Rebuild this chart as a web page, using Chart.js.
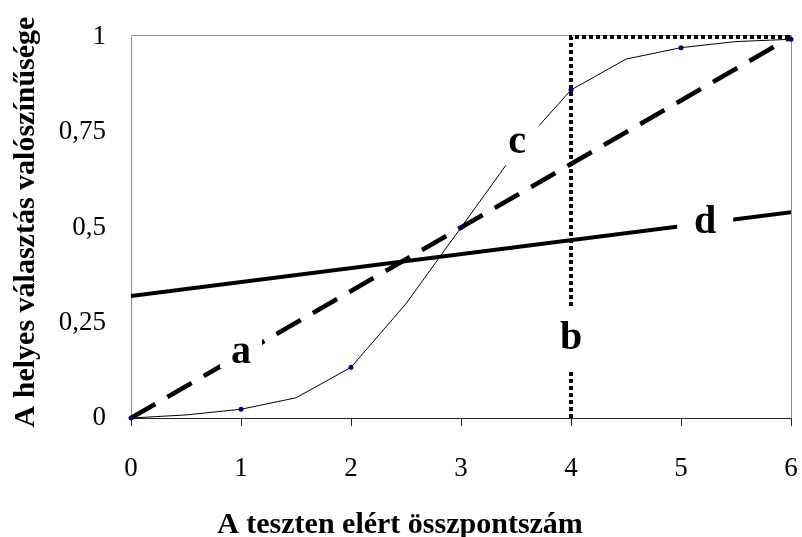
<!DOCTYPE html>
<html>
<head>
<meta charset="utf-8">
<script src="https://cdn.jsdelivr.net/npm/chart.js@4"></script>
<style>
  body { margin: 0; background: #fff; }
</style>
</head>
<body>
<canvas id="chart" width="802" height="537"></canvas>
<script>
// x ticks and y ticks
const xTicks = [0, 1, 2, 3, 4, 5, 6];
const yTicks = ['0', '0,25', '0,5', '0,75', '1'];

// curve c (markers only on whole scores)
const cX = [0, 0.5, 1, 1.5, 2, 2.5, 3, 3.5, 4, 4.5, 5, 5.5, 6];
const cY = [0, 0.008, 0.023, 0.053, 0.133, 0.30, 0.50, 0.70, 0.861, 0.942, 0.972, 0.988, 0.994];

// straight lines a, b, d
const aX = [0, 6];
const aY = [0, 1];
const bX = [4, 4, 6];
const bY = [0, 1, 1];
const dX = [0, 6];
const dY = [0.32, 0.54];

// letters on the lines
const letters = ['a', 'b', 'c', 'd'];
const letterX = [1.0, 4.0, 3.51, 5.22];
const letterY = [0.173, 0.21, 0.724, 0.514];
const gapW = [42, 30, 44, 56];
const gapH = [32, 64, 46, 30];

const xTitle = 'A teszten elért összpontszám';
const yTitle = 'A helyes választás valószínűsége';

const pts = (xs, ys) => xs.map((x, i) => ({ x: x, y: ys[i] }));
const serif = '"Liberation Serif", "Times New Roman", serif';

// grey frame on top and right, axis titles
const framePlugin = {
  id: 'frame',
  beforeDatasetsDraw(chart) {
    const { ctx, chartArea: a } = chart;
    ctx.save();
    ctx.strokeStyle = '#8c8c8c';
    ctx.lineWidth = 1;
    ctx.beginPath();
    ctx.moveTo(a.left, a.top - 1.5);
    ctx.lineTo(a.right + 0.5, a.top - 1.5);
    ctx.lineTo(a.right + 0.5, a.bottom);
    ctx.stroke();
    ctx.restore();
  },
  afterDraw(chart) {
    const ctx = chart.ctx;
    ctx.save();
    ctx.fillStyle = '#000';
    ctx.font = 'bold 30px ' + serif;
    ctx.textAlign = 'center';
    ctx.textBaseline = 'alphabetic';
    ctx.fillText(xTitle, 400, 533);
    ctx.translate(34, 222);
    ctx.rotate(-Math.PI / 2);
    ctx.fillText(yTitle, 0, 0);
    ctx.restore();
  }
};

// letters with a white patch that breaks the line under them
const letterPlugin = {
  id: 'letters',
  afterDatasetsDraw(chart) {
    const { ctx, scales } = chart;
    ctx.save();
    letters.forEach(function (t, i) {
      const px = scales.x.getPixelForValue(letterX[i]);
      const py = scales.y.getPixelForValue(letterY[i]);
      ctx.fillStyle = '#fff';
      ctx.fillRect(px - gapW[i] / 2, py - gapH[i] / 2, gapW[i], gapH[i]);
      ctx.fillStyle = '#000';
      ctx.font = 'bold 40px ' + serif;
      ctx.textAlign = 'center';
      ctx.textBaseline = 'middle';
      ctx.fillText(t, px, py + 1);
    });
    ctx.restore();
  }
};

new Chart(document.getElementById('chart'), {
  type: 'line',
  data: {
    datasets: [
      {
        label: 'c',
        data: pts(cX, cY),
        borderColor: '#000',
        borderWidth: 1,
        tension: 0,
        pointRadius: ctx => (Number.isInteger(cX[ctx.dataIndex]) ? 2.5 : 0),
        pointBackgroundColor: '#000080',
        pointBorderWidth: 0,
        clip: false
      },
      {
        label: 'a',
        data: pts(aX, aY),
        borderColor: '#000',
        borderWidth: 4.5,
        borderDash: [28, 14],
        pointRadius: 0,
        clip: false
      },
      {
        label: 'b',
        data: pts(bX, bY),
        borderColor: '#000',
        borderWidth: 4,
        borderDash: [4, 3],
        borderCapStyle: 'butt',
        borderJoinStyle: 'miter',
        pointRadius: 0,
        clip: false
      },
      {
        label: 'd',
        data: pts(dX, dY),
        borderColor: '#000',
        borderWidth: 4,
        pointRadius: 0
      }
    ]
  },
  options: {
    responsive: false,
    animation: false,
    devicePixelRatio: 1,
    layout: { autoPadding: false, padding: { left: 0, top: 37, right: 11, bottom: 0 } },
    plugins: { legend: { display: false }, tooltip: { enabled: false } },
    scales: {
      x: {
        type: 'linear',
        min: 0,
        max: 6,
        afterFit: s => { s.height = 119; s.paddingLeft = 0; s.paddingRight = 0; },
        afterBuildTicks: s => { s.ticks = xTicks.map(v => ({ value: v })); },
        grid: { drawOnChartArea: false, drawTicks: true, tickLength: 8, color: '#222' },
        border: { color: '#222', width: 1 },
        ticks: { color: '#000', padding: 27, font: { family: serif, size: 27 } }
      },
      y: {
        type: 'linear',
        min: 0,
        max: 1,
        afterFit: s => { s.width = 131; s.paddingTop = 0; s.paddingBottom = 0; },
        afterBuildTicks: s => { s.ticks = yTicks.map((t, i) => ({ value: i * 0.25 })); },
        grid: { display: false, drawTicks: false },
        border: { color: '#8c8c8c', width: 1 },
        ticks: {
          color: '#000',
          padding: 25,
          font: { family: serif, size: 27 },
          callback: (v, i) => yTicks[i]
        }
      }
    }
  },
  plugins: [framePlugin, letterPlugin]
});
</script>
</body>
</html>
